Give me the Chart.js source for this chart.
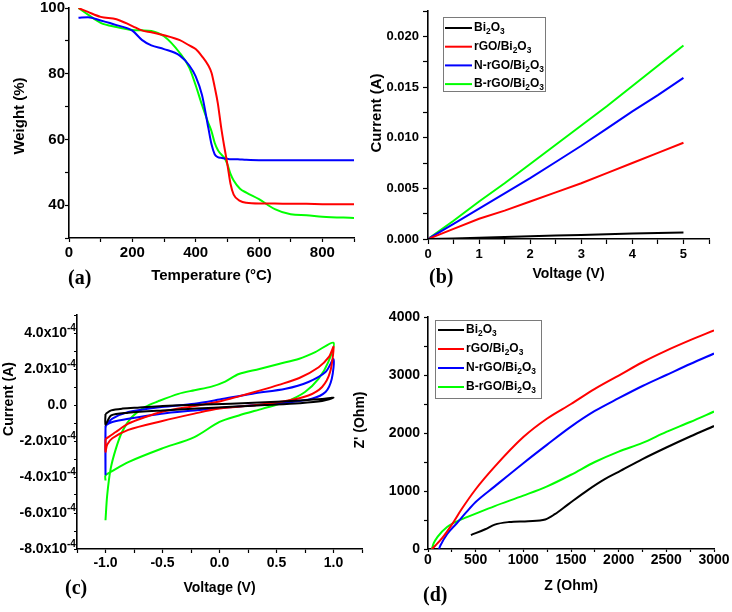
<!DOCTYPE html>
<html>
<head>
<meta charset="utf-8">
<script src="https://cdn.jsdelivr.net/npm/chart.js@4.4.1/dist/chart.umd.min.js"></script>
<style>
  body { margin: 0; background: #fff; }
  #fig { position: relative; width: 732px; height: 612px; overflow: hidden; background: #fff; }
  canvas { position: absolute; }
</style>
</head>
<body>
<div id="fig">
  <canvas id="panelA" width="366" height="300" style="left:0;top:0"></canvas>
  <canvas id="panelB" width="366" height="300" style="left:366px;top:0"></canvas>
  <canvas id="panelC" width="366" height="312" style="left:0;top:300px"></canvas>
  <canvas id="panelD" width="382" height="312" style="left:350px;top:300px"></canvas>
</div>
<script>
// sample names (digits are drawn as subscripts in the legend) and colours
const sampleNames = ['Bi2O3', 'rGO/Bi2O3', 'N-rGO/Bi2O3', 'B-rGO/Bi2O3'];
const sampleColors = ['#000000', '#ff0000', '#0000ff', '#00ff00'];

// (a) TGA: weight (%) vs temperature (°C)
const tgaTemp = [30, 60, 100, 150, 200, 230, 260, 300, 350, 380, 400, 420, 440, 450, 460, 470, 480, 490, 500, 510, 520, 540, 560, 600, 650, 700, 750, 800, 900];
const tgaRGO  = [100, 98.8, 97.3, 96.6, 94.5, 93.2, 92.6, 91.7, 90.2, 88.6, 87.5, 85.3, 82.5, 80.3, 76, 71, 64, 58, 52.5, 46.5, 43.2, 41.3, 40.7, 40.5, 40.5, 40.4, 40.4, 40.3, 40.3];
const tgaNRGO = [97, 97.2, 96.2, 94.8, 93.1, 90.3, 88.6, 87.5, 85.5, 82.5, 79.2, 73.5, 63.5, 58.5, 55.5, 54.6, 54.4, 54.2, 54.1, 54, 54, 53.9, 53.8, 53.7, 53.7, 53.7, 53.7, 53.7, 53.7];
const tgaBRGO = [100, 98, 95.5, 94.2, 93.3, 93.2, 93, 91.4, 86.3, 81.8, 76.5, 70.5, 65, 62.5, 59, 56.8, 55.5, 54.5, 52.5, 49.5, 47.5, 45, 43.8, 41.8, 38.8, 37.2, 36.9, 36.5, 36.1];

// (b) I-V: current (A) vs voltage (V)
const ivVoltage = [0, 0.5, 1, 1.5, 2, 2.5, 3, 3.5, 4, 4.5, 5];
const ivBi2O3 = [0, 0.00006, 0.00013, 0.0002, 0.00027, 0.00034, 0.0004, 0.00047, 0.00054, 0.0006, 0.00065];
const ivRGO   = [0, 0.001, 0.002, 0.0028, 0.0037, 0.0046, 0.0055, 0.0065, 0.0075, 0.0085, 0.0095];
const ivNRGO  = [0, 0.0015, 0.003, 0.0045, 0.006, 0.0076, 0.0092, 0.0109, 0.0126, 0.0142, 0.0159];
const ivBRGO  = [0, 0.0018, 0.0037, 0.0055, 0.0074, 0.0093, 0.0112, 0.0131, 0.0151, 0.0171, 0.0191];

// (c) CV loops: forward branch then return branch
const cvBi2O3V = [-1.0, -0.95, -0.85, -0.7, -0.5, -0.2, 0.1, 0.4, 0.7, 0.9, 1.0, 0.9, 0.7, 0.4, 0.1, -0.2, -0.5, -0.8, -0.95, -1.0, -1.0];
const cvBi2O3I = [-0.5e-4, -0.3e-4, -0.2e-4, -0.14e-4, -0.06e-4, 0.02e-4, 0.07e-4, 0.15e-4, 0.25e-4, 0.33e-4, 0.4e-4, 0.22e-4, 0.1e-4, 0.0, -0.1e-4, -0.2e-4, -0.3e-4, -0.43e-4, -0.58e-4, -1.1e-4, -0.5e-4];
const cvRGOV = [-1.0, -0.91, -0.8, -0.65, -0.51, -0.22, 0.0, 0.17, 0.35, 0.52, 0.7, 0.87, 0.96, 1.0, 0.97, 0.9, 0.78, 0.58, 0.35, 0.0, -0.22, -0.51, -0.8, -0.94, -0.985, -1.0, -1.0];
const cvRGOI = [-1.9e-4, -1.5e-4, -1.04e-4, -0.67e-4, -0.39e-4, -0.05e-4, 0.2e-4, 0.48e-4, 0.8e-4, 1.12e-4, 1.5e-4, 2.1e-4, 2.67e-4, 3.22e-4, 1.83e-4, 1.0e-4, 0.53e-4, 0.22e-4, 0.02e-4, -0.2e-4, -0.48e-4, -0.9e-4, -1.38e-4, -1.85e-4, -2.2e-4, -2.6e-4, -1.9e-4];
const cvNRGOV = [-1.0, -0.94, -0.8, -0.51, -0.22, 0.0, 0.29, 0.58, 0.78, 0.93, 1.0, 0.985, 0.93, 0.81, 0.58, 0.29, 0.0, -0.22, -0.51, -0.8, -0.94, -0.99, -1.0, -1.0, -1.0];
const cvNRGOI = [-1.15e-4, -0.76e-4, -0.39e-4, -0.11e-4, 0.07e-4, 0.3e-4, 0.63e-4, 0.9e-4, 1.28e-4, 1.83e-4, 2.55e-4, 1.46e-4, 0.72e-4, 0.35e-4, 0.13e-4, -0.02e-4, -0.17e-4, -0.3e-4, -0.48e-4, -0.76e-4, -0.94e-4, -1.1e-4, -1.3e-4, -3.85e-4, -1.15e-4];
const cvBRGOV = [-1.0, -0.985, -0.955, -0.91, -0.855, -0.77, -0.65, -0.54, -0.36, -0.22, -0.07, 0.05, 0.17, 0.35, 0.52, 0.7, 0.84, 1.0, 0.955, 0.87, 0.75, 0.58, 0.38, 0.17, 0.0, -0.22, -0.51, -0.8, -0.93, -1.0, -1.0];
const cvBRGOI = [-6.4e-4, -5.0e-4, -3.55e-4, -2.45e-4, -1.5e-4, -0.68e-4, -0.1e-4, 0.2e-4, 0.62e-4, 0.82e-4, 1.02e-4, 1.3e-4, 1.72e-4, 2.0e-4, 2.28e-4, 2.57e-4, 2.94e-4, 3.46e-4, 2.4e-4, 1.46e-4, 0.72e-4, 0.17e-4, -0.2e-4, -0.58e-4, -0.94e-4, -1.78e-4, -2.43e-4, -3.17e-4, -3.63e-4, -3.91e-4, -4.2e-4];

// (d) Nyquist: Z' (Ohm) vs Z (Ohm)
const eisBi2O3Z  = [450, 600, 700, 850, 1050, 1230, 1330, 1470, 1680, 1850, 2000, 2250, 2500, 2750, 3000];
const eisBi2O3Zi = [240, 340, 420, 465, 480, 510, 600, 770, 1020, 1200, 1330, 1550, 1750, 1940, 2120];
const eisRGOZ  = [40, 75, 150, 250, 350, 500, 700, 1000, 1250, 1500, 1750, 2000, 2250, 2500, 2750, 3000];
const eisRGOZi = [0, 55, 190, 420, 680, 1030, 1420, 1930, 2250, 2500, 2760, 2990, 3220, 3420, 3600, 3770];
const eisNRGOZ  = [115, 130, 200, 300, 400, 500, 700, 1000, 1250, 1500, 1750, 2000, 2250, 2500, 2750, 3000];
const eisNRGOZi = [0, 60, 255, 440, 630, 810, 1080, 1480, 1800, 2110, 2380, 2600, 2810, 3000, 3190, 3370];
const eisBRGOZ  = [40, 60, 100, 200, 350, 500, 700, 1000, 1250, 1500, 1750, 2000, 2250, 2500, 2750, 3000];
const eisBRGOZi = [0, 100, 210, 380, 510, 610, 740, 920, 1080, 1280, 1500, 1680, 1830, 2020, 2190, 2370];

const SANS = '"Liberation Sans", Arial, Helvetica, sans-serif';
const SERIF = '"Liberation Serif", "Times New Roman", serif';

function isMultiple(v, m) {
    const r = v / m;
    return Math.abs(r - Math.round(r)) < 1e-6;
}

// Draw a chemical formula, digits as subscripts
function drawFormula(ctx, text, x, y, size) {
    ctx.fillStyle = '#000';
    ctx.textBaseline = 'middle';
    ctx.textAlign = 'left';
    for (const ch of text) {
        const sub = /[0-9]/.test(ch);
        ctx.font = `bold ${sub ? size * 0.7 : size}px ${SANS}`;
        ctx.fillText(ch, x, sub ? y + size * 0.32 : y);
        x += ctx.measureText(ch).width;
    }
}

// Free text: rotated axis titles and panel letters
const figText = {
    id: 'figText',
    afterDraw(chart, args, opts) {
        const ctx = chart.ctx;
        (opts.items || []).forEach(it => {
            ctx.save();
            ctx.font = it.font;
            ctx.fillStyle = '#000';
            ctx.textAlign = it.align || 'left';
            ctx.textBaseline = it.baseline || 'alphabetic';
            ctx.translate(it.x, it.y);
            if (it.rotate) ctx.rotate(it.rotate * Math.PI / 180);
            ctx.fillText(it.text, 0, 0);
            ctx.restore();
        });
    }
};

// y tick labels like "4.0x10^-4" drawn with a real superscript
const sciTicks = {
    id: 'sciTicks',
    afterDraw(chart, args, opts) {
        if (!opts.display) return;
        const sc = chart.scales.y;
        const ctx = chart.ctx;
        const right = sc.right - opts.gap;
        ctx.save();
        ctx.fillStyle = '#000';
        ctx.textBaseline = 'middle';
        sc.ticks.forEach(t => {
            if (!t.label) return;
            const y = sc.getPixelForValue(t.value);
            const [mant, exp] = String(t.label).split('^');
            ctx.textAlign = 'right';
            ctx.font = `bold ${opts.size}px ${SANS}`;
            ctx.fillText(mant, right, y);
            if (exp) {
                ctx.textAlign = 'left';
                ctx.font = `bold ${opts.supSize}px ${SANS}`;
                ctx.fillText(exp, right, y - opts.supRise);
            }
        });
        ctx.restore();
    }
};

// Framed legend inside the plot, Origin style
const boxLegend = {
    id: 'boxLegend',
    afterDraw(chart, args, opts) {
        if (!opts.display) return;
        const ctx = chart.ctx;
        ctx.save();
        ctx.strokeStyle = '#7a7a7a';
        ctx.lineWidth = 1;
        ctx.strokeRect(opts.left + 0.5, opts.top + 0.5, opts.width, opts.height);
        chart.data.datasets.forEach((ds, i) => {
            const y = opts.top + opts.firstRow + i * opts.rowGap;
            ctx.strokeStyle = ds.borderColor;
            ctx.lineWidth = 2;
            ctx.beginPath();
            ctx.moveTo(opts.left + opts.lineStart, y);
            ctx.lineTo(opts.left + opts.lineEnd, y);
            ctx.stroke();
            drawFormula(ctx, ds.label, opts.left + opts.textStart, y, opts.fontSize);
        });
        ctx.restore();
    }
};

function axis(o) {
    return {
        type: 'linear',
        position: o.horizontal ? 'bottom' : 'left',
        min: o.min,
        max: o.max,
        afterFit: (s) => {
            if (o.horizontal) { s.height = o.box; s.paddingLeft = 0; s.paddingRight = 0; }
            else { s.width = o.box; s.paddingTop = 0; s.paddingBottom = 0; }
        },
        border: { display: true, color: '#000', width: 1.6 },
        grid: { drawOnChartArea: false, drawTicks: true, tickLength: o.tick, tickColor: '#000', tickWidth: 1.2 },
        ticks: {
            display: !o.hideLabels,
            stepSize: o.step,
            autoSkip: false,
            maxRotation: 0,
            minRotation: 0,
            color: '#000',
            padding: o.pad,
            font: { family: SANS, size: o.size, weight: 'bold' },
            callback: (v) => isMultiple(v, o.labelEvery) ? o.fmt(v) : ''
        },
        title: o.title ? {
            display: true,
            text: o.title,
            color: '#000',
            font: { family: SANS, size: o.titleSize, weight: 'bold' },
            padding: { top: 0, bottom: o.titlePad }
        } : { display: false }
    };
}

function series(i, xs, ys, extra) {
    return Object.assign({
        label: sampleNames[i],
        data: xs.map((x, k) => ({ x: x, y: ys[k] })),
        borderColor: sampleColors[i],
        backgroundColor: sampleColors[i],
        showLine: true,
        pointRadius: 0,
        borderWidth: 2,
        fill: false
    }, extra || {});
}

function makePanel(id, datasets, p) {
    return new Chart(document.getElementById(id), {
        type: 'scatter',
        data: { datasets: datasets },
        options: {
            responsive: false,
            animation: false,
            devicePixelRatio: 1,
            events: [],
            layout: { padding: p.padding },
            plugins: {
                legend: { display: false },
                tooltip: { enabled: false },
                figText: { items: p.texts },
                boxLegend: p.legend || { display: false },
                sciTicks: p.sci || { display: false }
            },
            scales: { x: p.x, y: p.y }
        },
        plugins: [figText, boxLegend, sciTicks]
    });
}

const smooth = { cubicInterpolationMode: 'monotone' };
const loop = { tension: 0.3 };
const titleFont = (s) => `bold ${s}px ${SANS}`;
const letterFont = `bold 20px ${SERIF}`;

// (a)
makePanel('panelA', [
    series(1, tgaTemp, tgaRGO, smooth),
    series(2, tgaTemp, tgaNRGO, smooth),
    series(3, tgaTemp, tgaBRGO, smooth)
], {
    padding: { left: 0, top: 8, right: 12, bottom: 0 },
    x: axis({ horizontal: true, min: 0, max: 900, step: 100, labelEvery: 200, fmt: v => String(Math.round(v)),
              size: 15, tick: 4, pad: 2, box: 62, title: 'Temperature (°C)', titleSize: 15, titlePad: 15 }),
    y: axis({ min: 30, max: 100, step: 10, labelEvery: 20, fmt: v => String(Math.round(v)),
              size: 15, tick: 4, pad: 0, box: 69 }),
    texts: [
        { text: 'Weight (%)', x: 20, y: 116, rotate: -90, align: 'center', baseline: 'middle', font: titleFont(15) },
        { text: '(a)', x: 68, y: 284, font: letterFont }
    ]
});

// (b)
makePanel('panelB', [
    series(0, ivVoltage, ivBi2O3),
    series(1, ivVoltage, ivRGO),
    series(2, ivVoltage, ivNRGO),
    series(3, ivVoltage, ivBRGO)
], {
    padding: { left: 0, top: 11, right: 23, bottom: 0 },
    x: axis({ horizontal: true, min: 0, max: 5.5, step: 0.5, labelEvery: 1, fmt: v => String(Math.round(v)),
              size: 13, tick: 5, pad: 3, box: 61, title: 'Voltage (V)', titleSize: 14, titlePad: 17 }),
    y: axis({ min: 0, max: 0.0225, step: 0.0025, labelEvery: 0.005, fmt: v => v.toFixed(3),
              size: 13, tick: 5, pad: 4, box: 62 }),
    legend: { display: true, left: 77, top: 17, width: 102, height: 74, firstRow: 11, rowGap: 18.7,
              lineStart: 2, lineEnd: 29, textStart: 31, fontSize: 12 },
    texts: [
        { text: 'Current (A)', x: 11, y: 113, rotate: -90, align: 'center', baseline: 'middle', font: titleFont(15) },
        { text: '(b)', x: 63, y: 283, font: letterFont }
    ]
});

// (c)
makePanel('panelC', [
    series(0, cvBi2O3V, cvBi2O3I, loop),
    series(1, cvRGOV, cvRGOI, loop),
    series(2, cvNRGOV, cvNRGOI, loop),
    series(3, cvBRGOV, cvBRGOI, loop)
], {
    padding: { left: 0, top: 15, right: 4, bottom: 0 },
    x: axis({ horizontal: true, min: -1.25, max: 1.25, step: 0.25, labelEvery: 0.5, fmt: v => v.toFixed(1),
              size: 14, tick: 4, pad: 2, box: 63, title: 'Voltage (V)', titleSize: 14, titlePad: 15 }),
    y: axis({ min: -8e-4, max: 5e-4, step: 1e-4, labelEvery: 2e-4, hideLabels: true,
              fmt: v => Math.abs(v) < 1e-9 ? '0.0' : (v * 1e4).toFixed(1) + 'x10^-4',
              size: 14, tick: 3, pad: 0, box: 77 }),
    sci: { display: true, gap: 10, size: 14, supSize: 10, supRise: 5 },
    texts: [
        { text: 'Current (A)', x: 9, y: 99, rotate: -90, align: 'center', baseline: 'middle', font: titleFont(14) },
        { text: '(c)', x: 65, y: 294, font: letterFont }
    ]
});

// (d)
makePanel('panelD', [
    series(0, eisBi2O3Z, eisBi2O3Zi, smooth),
    series(1, eisRGOZ, eisRGOZi, smooth),
    series(2, eisNRGOZ, eisNRGOZi, smooth),
    series(3, eisBRGOZ, eisBRGOZi, smooth)
], {
    padding: { left: 0, top: 17, right: 18, bottom: 0 },
    x: axis({ horizontal: true, min: 0, max: 3000, step: 250, labelEvery: 500, fmt: v => String(Math.round(v)),
              size: 14, tick: 3, pad: 0, box: 63, title: 'Z (Ohm)', titleSize: 14, titlePad: 17 }),
    y: axis({ min: 0, max: 4000, step: 500, labelEvery: 1000, fmt: v => String(Math.round(v)),
              size: 14, tick: 4, pad: 4, box: 78 }),
    legend: { display: true, left: 85, top: 20, width: 106, height: 78, firstRow: 10, rowGap: 19,
              lineStart: 3, lineEnd: 29, textStart: 31, fontSize: 12 },
    texts: [
        { text: "Z' (Ohm)", x: 10, y: 120, rotate: -90, align: 'center', baseline: 'middle', font: titleFont(14) },
        { text: '(d)', x: 73, y: 301, font: letterFont }
    ]
});
</script>
</body>
</html>
